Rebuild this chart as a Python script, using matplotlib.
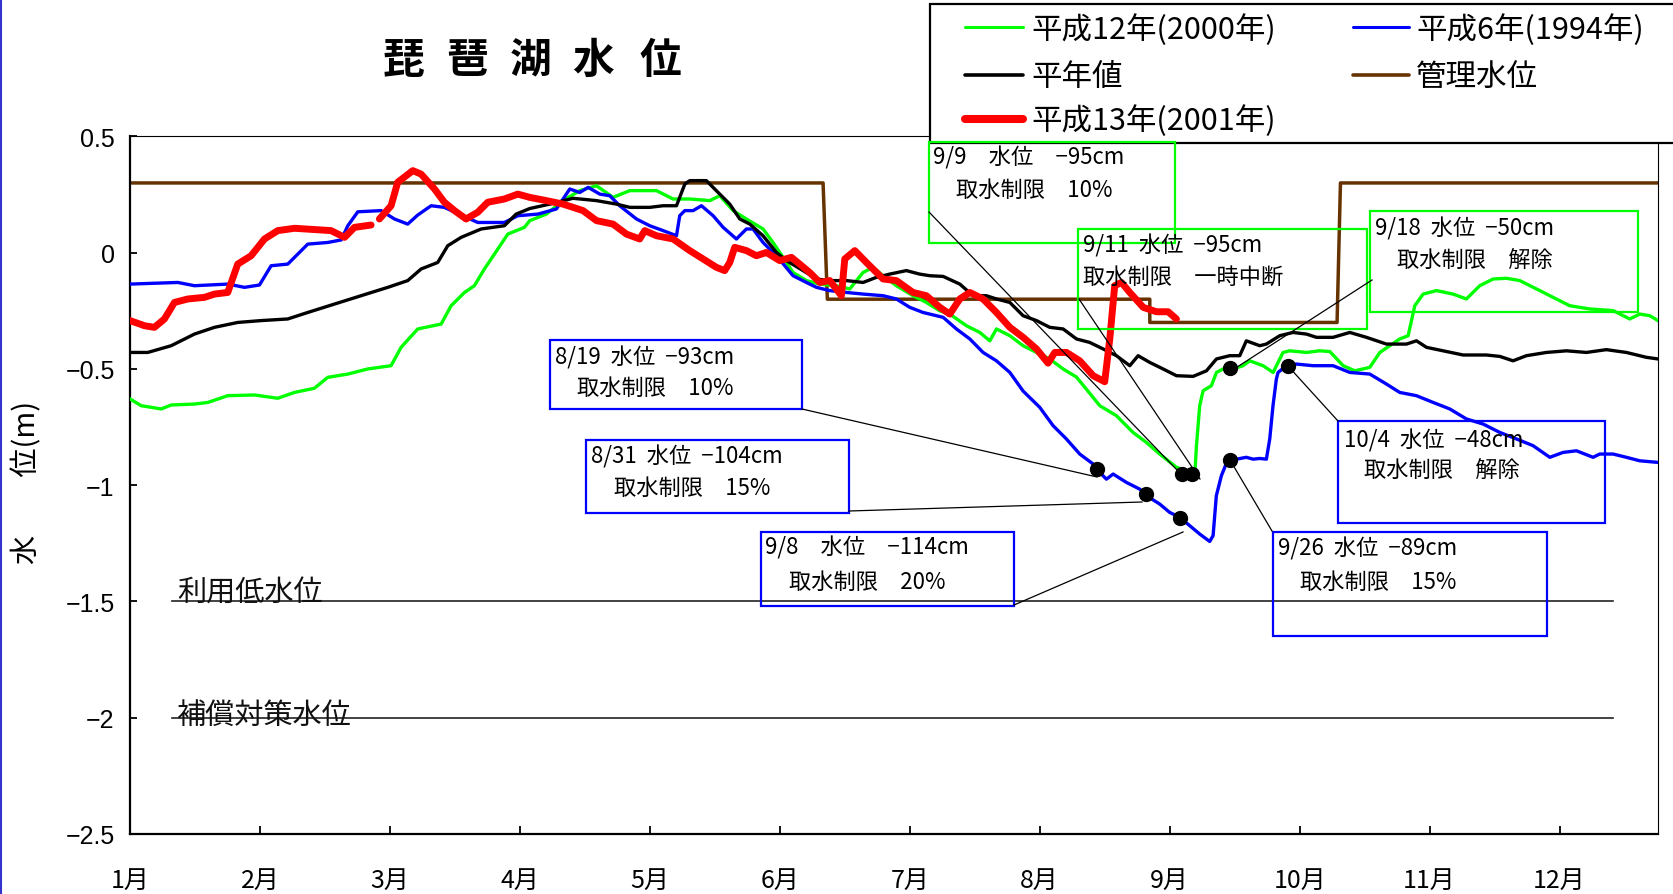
import matplotlib
matplotlib.use('Agg')
import matplotlib.pyplot as plt
from matplotlib.patches import Rectangle
from matplotlib.lines import Line2D
import numpy as np

plt.rcParams['font.family'] = ['Noto Sans CJK JP', 'DejaVu Sans']

# ---------------- data (x = months since 1 Jan, y = water level in m) ----------------
month_labels = ['1月', '2月', '3月', '4月', '5月', '6月', '7月', '8月', '9月', '10月', '11月', '12月']
ytick_values = [0.5, 0, -0.5, -1, -1.5, -2, -2.5]
ytick_labels = ['0.5', '0', '\u22120.5', '\u22121', '\u22121.5', '\u22122', '\u22122.5']

series_names = ['平成12年(2000年)', '平年値', '平成13年(2001年)', '平成6年(1994年)', '管理水位']

green_m = [0, 0.086, 0.240, 0.317, 0.496, 0.599, 0.752, 0.958, 1.137, 1.266, 1.419, 1.522, 1.676, 1.830,
           2.009, 2.086, 2.214, 2.394, 2.471, 2.574, 2.650, 2.727, 2.804, 2.907, 3.035, 3.076, 3.204, 3.332,
           3.461, 3.589, 3.717, 3.846, 4.051, 4.179, 4.307, 4.461, 4.538, 4.641, 4.743, 4.871, 4.948, 5.025,
           5.102, 5.205, 5.307, 5.436, 5.538, 5.641, 5.718, 5.795, 5.897, 6.025, 6.128, 6.231, 6.308, 6.436,
           6.539, 6.616, 6.667, 6.770, 6.872, 6.975, 7.077, 7.180, 7.283, 7.385, 7.462, 7.590, 7.718, 7.821,
           7.923, 8.052, 8.154, 8.193, 8.206, 8.231, 8.257, 8.321, 8.360, 8.411, 8.462, 8.565, 8.616, 8.718,
           8.796, 8.872, 8.924, 9.052, 9.154, 9.232, 9.335, 9.424, 9.540, 9.617, 9.694, 9.770, 9.835, 9.886,
           9.950, 10.053, 10.181, 10.283, 10.386, 10.489, 10.591, 10.694, 10.848, 10.950, 11.078, 11.232,
           11.412, 11.540, 11.617, 11.694, 11.758]
green_v = [-0.629, -0.658, -0.672, -0.655, -0.651, -0.644, -0.615, -0.612, -0.626, -0.601, -0.583, -0.536,
           -0.522, -0.500, -0.486, -0.407, -0.328, -0.307, -0.228, -0.171, -0.142, -0.070, -0.006, 0.080,
           0.109, 0.138, 0.166, 0.224, 0.267, 0.288, 0.238, 0.267, 0.267, 0.231, 0.231, 0.224, 0.245, 0.181,
           0.145, 0.102, 0.044, -0.020, -0.085, -0.120, -0.135, -0.142, -0.156, -0.085, -0.063, -0.099,
           -0.142, -0.185, -0.214, -0.250, -0.264, -0.314, -0.343, -0.379, -0.328, -0.357, -0.400, -0.429,
           -0.457, -0.500, -0.535, -0.605, -0.658, -0.701, -0.773, -0.816, -0.866, -0.923, -0.945, -0.959,
           -0.830, -0.658, -0.594, -0.572, -0.515, -0.500, -0.505, -0.486, -0.465, -0.486, -0.515, -0.429,
           -0.422, -0.429, -0.422, -0.425, -0.486, -0.508, -0.493, -0.429, -0.400, -0.371, -0.357, -0.228,
           -0.178, -0.163, -0.178, -0.199, -0.142, -0.113, -0.110, -0.120, -0.163, -0.192, -0.228, -0.242,
           -0.249, -0.285, -0.264, -0.271, -0.292]

normal_m = [0, 0.137, 0.317, 0.496, 0.650, 0.829, 1.009, 1.214, 1.368, 1.573, 1.778, 1.984, 2.137, 2.240,
            2.368, 2.445, 2.548, 2.702, 2.881, 2.971, 3.076, 3.230, 3.409, 3.589, 3.743, 3.846, 3.999, 4.102,
            4.205, 4.269, 4.307, 4.435, 4.538, 4.615, 4.692, 4.769, 4.871, 4.974, 5.051, 5.179, 5.282, 5.384,
            5.513, 5.641, 5.743, 5.846, 5.974, 6.076, 6.154, 6.257, 6.385, 6.487, 6.590, 6.667, 6.770, 6.872,
            6.975, 7.077, 7.180, 7.283, 7.385, 7.488, 7.590, 7.693, 7.757, 7.847, 7.949, 8.052, 8.180, 8.283,
            8.360, 8.462, 8.539, 8.590, 8.693, 8.744, 8.847, 8.949, 9.052, 9.129, 9.257, 9.386, 9.514, 9.668,
            9.822, 9.899, 9.976, 10.104, 10.258, 10.437, 10.540, 10.642, 10.745, 10.899, 11.053, 11.207,
            11.360, 11.514, 11.668, 11.758]
normal_v = [-0.429, -0.429, -0.400, -0.350, -0.321, -0.300, -0.292, -0.285, -0.257, -0.221, -0.185, -0.149,
            -0.120, -0.070, -0.042, 0.030, 0.066, 0.102, 0.116, 0.166, 0.190, 0.209, 0.234, 0.224, 0.209,
            0.195, 0.195, 0.202, 0.202, 0.295, 0.310, 0.310, 0.252, 0.209, 0.145, 0.123, 0.073, 0.001,
            -0.034, -0.077, -0.113, -0.120, -0.120, -0.128, -0.106, -0.092, -0.077, -0.092, -0.099, -0.102,
            -0.135, -0.185, -0.185, -0.199, -0.214, -0.271, -0.292, -0.321, -0.328, -0.371, -0.386, -0.414,
            -0.443, -0.486, -0.443, -0.472, -0.500, -0.529, -0.532, -0.508, -0.457, -0.443, -0.443, -0.379,
            -0.400, -0.393, -0.357, -0.343, -0.350, -0.364, -0.364, -0.343, -0.364, -0.393, -0.393, -0.379,
            -0.407, -0.422, -0.440, -0.440, -0.446, -0.465, -0.443, -0.429, -0.422, -0.429, -0.417, -0.429,
            -0.450, -0.457]

y2001_m = [0, 0.111, 0.188, 0.265, 0.342, 0.445, 0.573, 0.650, 0.752, 0.829, 0.932, 1.035, 1.137, 1.266,
           1.547, 1.651, 1.727, 1.855, 1.887, 1.919, 2.009, 2.060, 2.176, 2.240, 2.343, 2.419, 2.497, 2.586,
           2.676, 2.753, 2.881, 2.984, 3.076, 3.204, 3.332, 3.486, 3.589, 3.717, 3.820, 3.922, 3.961, 4.051,
           4.179, 4.307, 4.410, 4.512, 4.576, 4.615, 4.653, 4.743, 4.820, 4.897, 4.999, 5.089, 5.153, 5.230,
           5.307, 5.384, 5.474, 5.500, 5.577, 5.666, 5.795, 5.897, 6.025, 6.128, 6.231, 6.308, 6.385, 6.462,
           6.564, 6.667, 6.770, 6.872, 6.975, 7.064, 7.116, 7.206, 7.308, 7.411, 7.500, 7.539, 7.577, 7.629,
           7.693, 7.796, 7.898, 7.988, 8.052]
y2001_v = [-0.292, -0.314, -0.321, -0.285, -0.214, -0.199, -0.192, -0.178, -0.171, -0.049, -0.013, 0.059,
           0.095, 0.105, 0.095, 0.066, 0.109, 0.119, np.nan, 0.145, 0.202, 0.303, 0.353, 0.338, 0.274, 0.217,
           0.181, 0.145, 0.174, 0.217, 0.231, 0.252, 0.238, 0.224, 0.209, 0.181, 0.138, 0.123, 0.080, 0.059,
           0.095, 0.073, 0.059, 0.009, -0.027, -0.063, -0.077, -0.042, 0.023, 0.009, -0.013, 0.001, -0.034,
           -0.020, -0.049, -0.085, -0.128, -0.120, -0.185, -0.027, 0.009, -0.042, -0.113, -0.120, -0.171,
           -0.185, -0.235, -0.264, -0.199, -0.171, -0.199, -0.257, -0.321, -0.364, -0.414, -0.475, -0.429,
           -0.429, -0.465, -0.529, -0.555, -0.371, -0.142, -0.128, -0.171, -0.235, -0.254, -0.254, -0.285]

y1994_m = [0, 0.368, 0.496, 0.753, 0.881, 0.996, 1.086, 1.214, 1.291, 1.368, 1.522, 1.625, 1.676, 1.753,
           1.932, 2.035, 2.137, 2.214, 2.317, 2.419, 2.548, 2.676, 2.881, 2.984, 3.138, 3.281, 3.384, 3.461,
           3.525, 3.615, 3.692, 3.768, 3.897, 3.999, 4.102, 4.205, 4.230, 4.269, 4.333, 4.397, 4.487, 4.564,
           4.666, 4.743, 4.794, 4.871, 4.974, 5.102, 5.205, 5.282, 5.384, 5.513, 5.641, 5.795, 5.897, 6.000,
           6.102, 6.257, 6.359, 6.462, 6.564, 6.667, 6.770, 6.872, 7.000, 7.103, 7.205, 7.308, 7.411, 7.462,
           7.513, 7.565, 7.667, 7.770, 7.821, 7.923, 8.000, 8.077, 8.154, 8.231, 8.308, 8.334, 8.359, 8.398,
           8.449, 8.514, 8.590, 8.642, 8.693, 8.744, 8.770, 8.795, 8.821, 8.834, 8.898, 8.975, 9.103, 9.257,
           9.386, 9.540, 9.668, 9.770, 9.899, 10.027, 10.155, 10.283, 10.412, 10.540, 10.668, 10.796, 10.925,
           11.027, 11.130, 11.258, 11.309, 11.412, 11.514, 11.617, 11.758]
y1994_v = [-0.135, -0.128, -0.142, -0.135, -0.149, -0.139, -0.056, -0.049, -0.006, 0.037, 0.044, 0.055,
           0.116, 0.176, 0.181, 0.145, 0.123, 0.162, 0.202, 0.195, 0.162, 0.130, 0.130, 0.159, 0.166, 0.188,
           0.274, 0.259, 0.281, 0.252, 0.245, 0.202, 0.145, 0.116, 0.095, 0.073, 0.159, 0.181, 0.181, 0.202,
           0.159, 0.109, 0.059, 0.102, 0.102, 0.044, -0.013, -0.099, -0.128, -0.149, -0.163, -0.171, -0.178,
           -0.185, -0.199, -0.235, -0.257, -0.278, -0.328, -0.371, -0.429, -0.465, -0.515, -0.595, -0.665,
           -0.744, -0.801, -0.866, -0.909, -0.945, -0.974, -0.952, -0.988, -1.017, -1.045, -1.081, -1.117,
           -1.138, -1.174, -1.210, -1.242, -1.217, -1.045, -0.959, -0.888, -0.888, -0.880, -0.888, -0.885,
           -0.888, -0.801, -0.658, -0.543, -0.515, -0.486, -0.479, -0.486, -0.486, -0.515, -0.522, -0.565,
           -0.601, -0.615, -0.644, -0.672, -0.715, -0.737, -0.773, -0.801, -0.830, -0.880, -0.859, -0.852,
           -0.880, -0.866, -0.866, -0.880, -0.895, -0.902]

control_m = [0, 5.333, 5.366, 7.847, 7.847, 9.288, 9.314, 11.757]
control_v = [0.30, 0.30, -0.20, -0.20, -0.30, -0.30, 0.30, 0.30]

ref_levels = [-1.5, -2.0]
ref_names = ['利用低水位', '補償対策水位']

dot_m = [7.438, 7.817, 8.079, 8.092, 8.174, 8.464, 8.464, 8.913]
dot_v = [-0.930, -1.038, -1.142, -0.952, -0.952, -0.497, -0.892, -0.487]

note_line1 = ['8/19  水位  \u221293cm', '8/31  水位  \u2212104cm', '9/8　水位　\u2212114cm',
              '9/9　水位　\u221295cm', '9/11  水位  \u221295cm', '9/18  水位  \u221250cm',
              '9/26  水位  \u221289cm', '10/4  水位  \u221248cm']
note_line2 = ['取水制限　10%', '取水制限　15%', '取水制限　20%', '取水制限　10%',
              '取水制限　一時中断', '取水制限　解除', '取水制限　15%', '取水制限　解除']

title_text = '琵琶湖水位'
ylabel_text = '水　　位(m)'

# ---------------- layout (pixels of the 1674x895 image) ----------------
W, H = 1674, 895
X0, MPX, Y0, VPX = 130.0, 129.96, 253.7, 232.5
AX_RIGHT, AX_BOTTOM = 1658.0, 834.95
fx = lambda X: X / W
fy = lambda Y: 1 - Y / H

# box: (x1, y1, x2, y2), colour, line1 (x, y), line2 (x, y), leader (xa, ya, xb, yb)
note_layout = [
    ((550, 341, 802, 410), '#0000ff', (555, 358), (577, 388), (802, 410, 1097, 478)),
    ((586, 441, 849, 514), '#0000ff', (591, 457), (614, 488), (849, 512, 1142, 503)),
    ((761, 533, 1014, 607), '#0000ff', (765, 548), (789, 582), (1014, 606, 1183, 533)),
    ((929, 143, 1175, 244), '#00ff00', (933, 158), (956, 190), (929, 213, 1177, 471)),
    ((1078, 230, 1367, 330), '#00ff00', (1083, 246), (1083, 277), (1079, 300, 1200, 480)),
    ((1370, 212, 1638, 313), '#00ff00', (1375, 229), (1397, 260), (1372, 281, 1231, 372)),
    ((1273, 533, 1547, 637), '#0000ff', (1278, 549), (1300, 582), (1230, 461, 1272, 532)),
    ((1338, 422, 1605, 524), '#0000ff', (1344, 441), (1364, 470), (1288, 367, 1338, 422)),
]

fig = plt.figure(figsize=(W / 100, H / 100), dpi=100)
fig.patch.set_facecolor('white')
ax = fig.add_axes([fx(X0), fy(AX_BOTTOM), (AX_RIGHT - X0) / W, (AX_BOTTOM - 137.45) / H])
ax.set_xlim(0, (AX_RIGHT - X0) / MPX)
ax.set_ylim(-2.5, 0.5)

# reference levels
for lev, name, tx, ty in zip(ref_levels, ref_names, [0.362, 0.354], [-1.464, -1.988]):
    ax.plot([0.32, 11.41], [lev, lev], color='#222222', lw=1.2, zorder=1.5)
    ax.text(tx, ty, name, fontsize=21, va='center', ha='left', color='#111111', zorder=1.6)

colors = {'green': '#00ff00', 'black': '#000000', 'red': '#ff0000', 'blue': '#0000ff', 'brown': '#663300'}

ax.plot(control_m, control_v, color=colors['brown'], lw=2.5, zorder=2)
ax.plot(green_m, green_v, color=colors['green'], lw=2.4, zorder=3)
ax.plot(y1994_m, y1994_v, color=colors['blue'], lw=2.4, zorder=3.2)
ax.plot(normal_m, normal_v, color=colors['black'], lw=2.4, zorder=3.4)
ax.plot(y2001_m, y2001_v, color=colors['red'], lw=5.0, zorder=4, solid_capstyle='round',
        solid_joinstyle='round')
ax.plot(dot_m, dot_v, 'o', color='black', ms=10, zorder=6)

# axes styling
ax.set_xticks(range(12))
ax.set_xticklabels(month_labels, fontsize=18)
ax.set_yticks(ytick_values)
ax.set_yticklabels(ytick_labels, fontsize=18, fontfamily=['Liberation Sans', 'DejaVu Sans'])
ax.tick_params(axis='x', direction='in', length=6, width=1.3, pad=24)
ax.tick_params(axis='y', direction='in', length=5, width=1.3, pad=11)
for s in ['left', 'bottom']:
    ax.spines[s].set_linewidth(1.6)
for s in ['top', 'right']:
    ax.spines[s].set_linewidth(0.8)

# title (spaced characters)
for ch, cx in zip(title_text, [403, 467, 531, 593, 660]):
    fig.text(fx(cx), fy(61), ch, fontsize=30, fontweight='bold', ha='center', va='center')

# y label
fig.text(fx(27), fy(482), ylabel_text, fontsize=21, rotation=90, ha='center', va='center')

# annotation boxes
for (l1, l2, lay) in zip(note_line1, note_line2, note_layout):
    (x1, y1, x2, y2), col, p1, p2, (xa, ya, xb, yb) = lay
    fig.add_artist(Rectangle((fx(x1), fy(y2)), (x2 - x1) / W, (y2 - y1) / H, transform=fig.transFigure,
                             fill=False, ec=col, lw=1.6, zorder=5))
    fig.text(fx(p1[0]), fy(p1[1]), l1, fontsize=16, ha='left', va='center', zorder=5)
    fig.text(fx(p2[0]), fy(p2[1]), l2, fontsize=16, ha='left', va='center', zorder=5)
    fig.add_artist(Line2D([fx(xa), fx(xb)], [fy(ya), fy(yb)], transform=fig.transFigure,
                          color='black', lw=0.9, zorder=5))

# legend (manual)
fig.add_artist(Rectangle((fx(930), fy(144)), (W + 5 - 930) / W, (144 - 5) / H, transform=fig.transFigure,
                         fc='white', ec='black', lw=1.6, zorder=4))
leg_items = [
    (series_names[0], colors['green'], 2.2, (965, 1023, 28), (1031, 30)),
    (series_names[1], colors['black'], 2.6, (965, 1023, 76), (1031, 77)),
    (series_names[2], colors['red'], 5.8, (965, 1023, 119.5), (1031, 121)),
    (series_names[3], colors['blue'], 2.2, (1353, 1409, 28), (1416, 30)),
    (series_names[4], colors['brown'], 2.6, (1353, 1409, 76), (1416, 77)),
]
for name, col, lw, (lx1, lx2, ly), (tx, ty) in leg_items:
    fig.add_artist(Line2D([fx(lx1), fx(lx2)], [fy(ly), fy(ly)], transform=fig.transFigure,
                          color=col, lw=lw, zorder=4.5, solid_capstyle='round'))
    fig.text(fx(tx), fy(ty), name, fontsize=22, ha='left', va='center', zorder=4.6)

# left border line of the slide
fig.add_artist(Line2D([fx(1), fx(1)], [0, 1], transform=fig.transFigure, color='#3333cc', lw=1.5))

fig.savefig('out.png', dpi=100)
